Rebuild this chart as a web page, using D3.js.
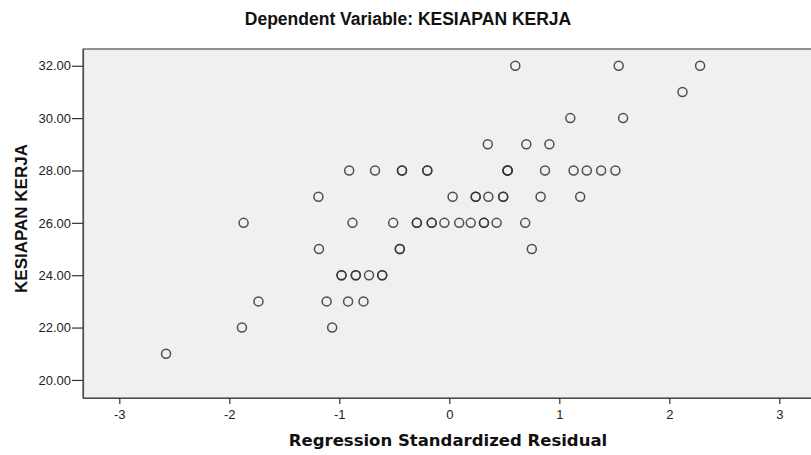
<!DOCTYPE html>
<html>
<head>
<meta charset="utf-8">
<script src="https://cdn.jsdelivr.net/npm/d3@7"></script>
<style>
  html, body { margin: 0; padding: 0; background: #ffffff; overflow: hidden; }
  svg { display: block; }
</style>
</head>
<body>
<svg id="chart" width="811" height="455"></svg>
<script>
// ---- data ----
const chartTitle = "Dependent Variable: KESIAPAN KERJA";
const xAxisTitle = "Regression Standardized Residual";
const yAxisTitle = "KESIAPAN KERJA";

const xTicks = [-3, -2, -1, 0, 1, 2, 3];
const yTicks = [20, 22, 24, 26, 28, 30, 32];

// Regression standardized residual (x) and KESIAPAN KERJA (y), one entry per case
const residual = [
  0.60, 1.54, 2.28,
  2.12,
  1.10, 1.58,
  0.35, 0.70, 0.91,
  -0.91, -0.675, -0.43, -0.43, -0.20, -0.20, 0.53, 0.53, 0.53, 0.87, 1.13, 1.25, 1.38, 1.51,
  -1.19, 0.03, 0.24, 0.24, 0.355, 0.49, 0.49, 0.83, 1.19,
  -1.87, -0.88, -0.51, -0.295, -0.295, -0.16, -0.16, -0.045, 0.09, 0.195, 0.315, 0.315, 0.43, 0.69,
  -1.185, -0.45, -0.45, 0.75,
  -0.98, -0.98, -0.85, -0.85, -0.73, -0.61, -0.61,
  -1.735, -1.115, -0.92, -0.78,
  -1.885, -1.065,
  -2.575
];
const kesiapan = [
  32, 32, 32,
  31,
  30, 30,
  29, 29, 29,
  28, 28, 28, 28, 28, 28, 28, 28, 28, 28, 28, 28, 28, 28,
  27, 27, 27, 27, 27, 27, 27, 27, 27,
  26, 26, 26, 26, 26, 26, 26, 26, 26, 26, 26, 26, 26, 26,
  25, 25, 25, 25,
  24, 24, 24, 24, 24, 24, 24,
  23, 23, 23, 23,
  22, 22,
  21
];

// ---- layout ----
const svg = d3.select("#chart");
const plot = { left: 83, top: 49, bottom: 398, right: 815.6 };

const x = d3.scaleLinear().domain([-3.33, 3.33]).range([plot.left, plot.right]);
const y = d3.scaleLinear().domain([19.31, 32.64]).range([plot.bottom, plot.top]);

const font = "'Liberation Sans', Arial, sans-serif";
const wideFont = "'DejaVu Sans', Verdana, sans-serif";

// plot background
svg.append("rect")
  .attr("x", plot.left).attr("y", plot.top)
  .attr("width", plot.right - plot.left).attr("height", plot.bottom - plot.top)
  .attr("fill", "#f0f0f0")
  .attr("stroke", "#4d4d4d").attr("stroke-width", 1.2);

// axes
const xAxis = d3.axisBottom(x).tickValues(xTicks).tickFormat(d => String(d)).tickSize(6).tickSizeOuter(0);
const yAxis = d3.axisLeft(y).tickValues(yTicks).tickFormat(d3.format(".2f")).tickSize(11).tickSizeOuter(0);

const gx = svg.append("g").attr("transform", `translate(0,${plot.bottom})`).call(xAxis);
const gy = svg.append("g").attr("transform", `translate(${plot.left},0)`).call(yAxis);

[gx, gy].forEach(g => {
  g.select(".domain").attr("stroke", "#4d4d4d").attr("stroke-width", 1.2);
  g.selectAll(".tick line").attr("stroke", "#333").attr("stroke-width", 1.2);
  g.selectAll(".tick text")
    .attr("fill", "#222")
    .style("font-family", font)
    .style("font-size", "13px");
});
gx.selectAll(".tick text").attr("dy", "0.95em");
gy.selectAll(".tick text").attr("x", -12);

// points
const pts = residual.map((r, i) => ({ r, k: kesiapan[i] }));
svg.append("g").selectAll("circle")
  .data(pts)
  .join("circle")
  .attr("cx", d => x(d.r))
  .attr("cy", d => y(d.k))
  .attr("r", 4.5)
  .attr("fill", "none")
  .attr("stroke", "#333")
  .attr("stroke-opacity", 0.85)
  .attr("stroke-width", 1.5);

// titles
svg.append("text")
  .attr("x", 408).attr("y", 25)
  .attr("text-anchor", "middle")
  .style("font-family", font).style("font-weight", "bold").style("font-size", "17.5px")
  .attr("fill", "#111")
  .text(chartTitle);

svg.append("text")
  .attr("x", 448).attr("y", 446)
  .attr("text-anchor", "middle")
  .style("font-family", wideFont).style("font-weight", "bold").style("font-size", "16.5px")
  .attr("fill", "#111")
  .text(xAxisTitle);

svg.append("text")
  .attr("transform", `translate(27,${(plot.top + plot.bottom) / 2 - 5}) rotate(-90)`)
  .attr("text-anchor", "middle")
  .style("font-family", font).style("font-weight", "bold").style("font-size", "17px")
  .attr("fill", "#111")
  .text(yAxisTitle);
</script>
</body>
</html>
